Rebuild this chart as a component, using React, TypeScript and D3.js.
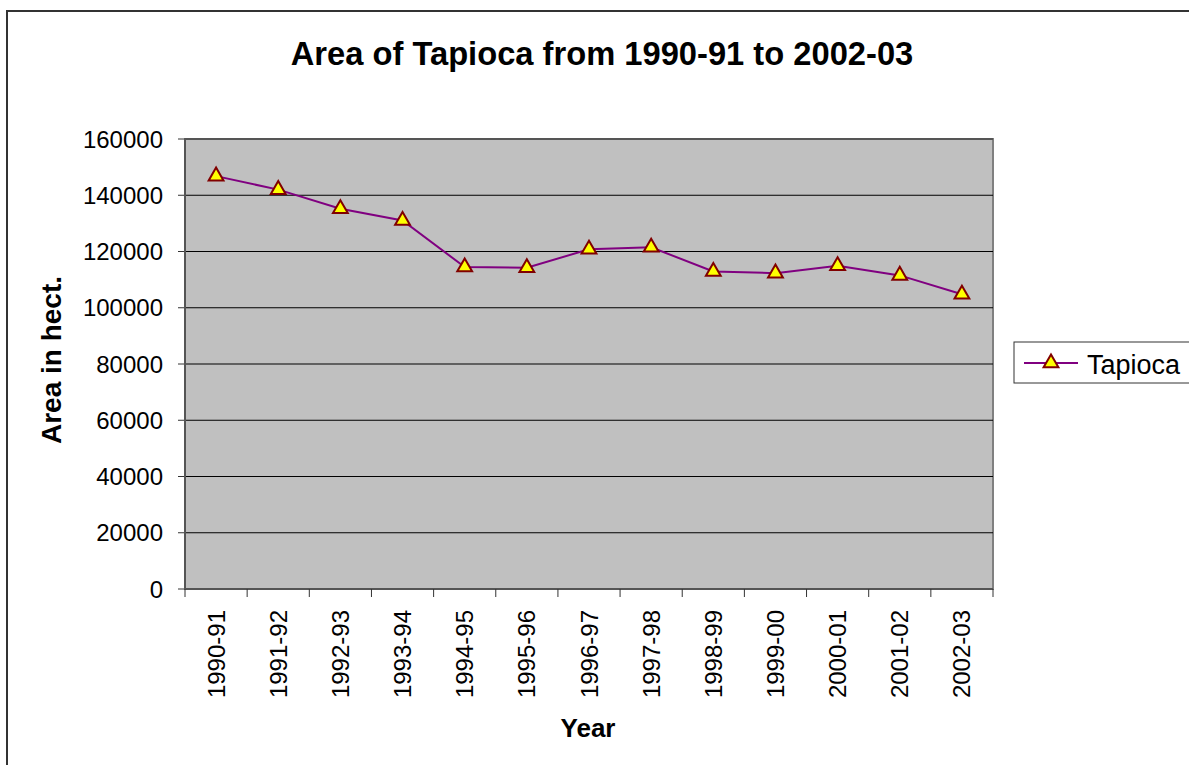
import React from "react";
import * as d3 from "d3";

const years = ["1990-91","1991-92","1992-93","1993-94","1994-95","1995-96","1996-97","1997-98","1998-99","1999-00","2000-01","2001-02","2002-03"];
const areas = [146800, 142000, 135200, 131000, 114500, 114200, 120800, 121500, 112900, 112300, 114900, 111500, 104800];
const yTicks = [0, 20000, 40000, 60000, 80000, 100000, 120000, 140000, 160000];
const seriesName = "Tapioca";

const W = 1189, H = 765;
const left = 185, right = 993, top = 139, bottom = 589;
const font = "'Liberation Sans', Arial, sans-serif";

export default function App() {
  const x = d3.scaleBand<string>().domain(years).range([left, right]);
  const y = d3.scaleLinear().domain([0, 160000]).range([bottom, top]);
  const line = d3.line<number>()
    .x((_, i) => (x(years[i]) as number) + x.bandwidth() / 2)
    .y((d) => y(d));
  const tri = d3.symbol().type(d3.symbolTriangle).size(95)() as string;

  return (
    <svg width={W} height={H} style={{ position: "absolute", left: 0, top: 0, background: "#fff" }}>
      <rect x={7} y={11} width={1300} height={900} fill="#fff" stroke="#333" strokeWidth={2} />
      <text x={602} y={65} textAnchor="middle" fontFamily={font} fontWeight="bold" fontSize={32.7}>Area of Tapioca from 1990-91 to 2002-03</text>
      <rect x={left} y={top} width={right - left} height={bottom - top} fill="#c0c0c0" stroke="#808080" strokeWidth={2} />
      {yTicks.map((t) => (
        <g key={t}>
          {t > 0 && <line x1={left} x2={right} y1={y(t)} y2={y(t)} stroke="#000" strokeWidth={1} />}
          <line x1={178} x2={left} y1={y(t)} y2={y(t)} stroke="#333" strokeWidth={1} />
          <text x={163} y={y(t) + 8.5} textAnchor="end" fontFamily={font} fontSize={24}>{t}</text>
        </g>
      ))}
      <line x1={left} x2={right} y1={top} y2={top} stroke="#555" strokeWidth={2} />
      <line x1={left} x2={left} y1={top} y2={bottom} stroke="#555" strokeWidth={2} />
      <line x1={left} x2={right} y1={bottom} y2={bottom} stroke="#555" strokeWidth={2} />
      {years.map((yr, i) => (
        <line key={"t" + i} x1={x(yr) as number} x2={x(yr) as number} y1={bottom} y2={597} stroke="#333" strokeWidth={1} />
      ))}
      <line x1={right} x2={right} y1={bottom} y2={597} stroke="#333" strokeWidth={1} />
      {years.map((yr) => {
        const cx = (x(yr) as number) + x.bandwidth() / 2;
        return (
          <text key={yr} transform={`translate(${cx + 8.5},610) rotate(-90)`} textAnchor="end" fontFamily={font} fontSize={24}>{yr}</text>
        );
      })}
      <path d={line(areas) as string} fill="none" stroke="#800080" strokeWidth={2} />
      {areas.map((v, i) => (
        <path key={i} d={tri} transform={`translate(${(x(years[i]) as number) + x.bandwidth() / 2},${y(v)})`} fill="#ffff00" stroke="#800000" strokeWidth={2} />
      ))}
      <text x={588} y={737} textAnchor="middle" fontFamily={font} fontWeight="bold" fontSize={26}>Year</text>
      <text transform={`translate(61,360) rotate(-90)`} textAnchor="middle" fontFamily={font} fontWeight="bold" fontSize={28}>Area in hect.</text>
      <rect x={1014} y={342} width={200} height={41} fill="#fff" stroke="#333" strokeWidth={1} />
      <line x1={1024} x2={1078} y1={363} y2={363} stroke="#800080" strokeWidth={2} />
      <path d={tri} transform="translate(1051,363)" fill="#ffff00" stroke="#800000" strokeWidth={2} />
      <text x={1087} y={374} fontFamily={font} fontSize={27}>{seriesName}</text>
    </svg>
  );
}
